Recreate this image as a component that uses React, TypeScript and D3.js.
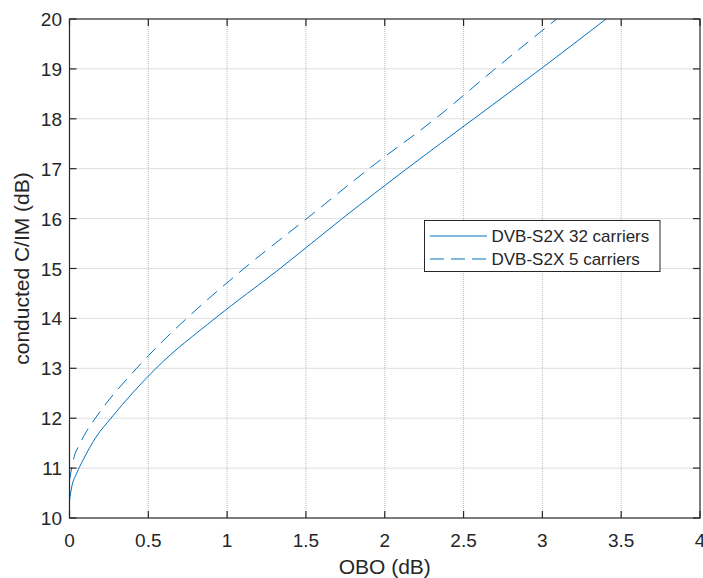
import React from "react";
import * as d3 from "d3";

const xTicks = [0, 0.5, 1, 1.5, 2, 2.5, 3, 3.5, 4];
const yTicks = [10, 11, 12, 13, 14, 15, 16, 17, 18, 19, 20];

const obo32 = [0, 0.014, 0.046, 0.084, 0.168, 0.263, 0.549, 0.923, 1.336, 1.73, 2.14, 2.565, 2.99, 3.404];
const cim32 = [10.36, 10.62, 10.9, 11.15, 11.62, 12.0, 13.0, 14.0, 15.0, 16.0, 17.0, 18.0, 19.0, 20.0];

const obo5 = [0, 0.014, 0.03, 0.062, 0.094, 0.164, 0.426, 0.665, 0.743, 1.107, 1.505, 1.9, 2.32, 2.7, 3.09];
const cim5 = [10.76, 11.0, 11.23, 11.46, 11.66, 12.0, 13.0, 13.77, 14.0, 15.0, 16.0, 17.0, 18.0, 19.0, 20.0];

const seriesNames = ["DVB-S2X 32 carriers", "DVB-S2X 5 carriers"];

const W = 703, H = 578;
const L = 69.5, R = 700, T = 19, B = 518;
const lineColor = "#0072BD";
const axisColor = "#262626";
const font = "'Liberation Sans', Arial, Helvetica, sans-serif";

export default function App() {
  const x = d3.scaleLinear().domain([0, 4]).range([L, R]);
  const y = d3.scaleLinear().domain([10, 20]).range([B, T]);
  const line = d3
    .line<[number, number]>()
    .x((d) => x(d[0]))
    .y((d) => y(d[1]))
    .curve(d3.curveMonotoneX);
  const d32 = line(obo32.map((v, i) => [v, cim32[i]] as [number, number])) || "";
  const d5 = line(obo5.map((v, i) => [v, cim5[i]] as [number, number])) || "";
  const tl = 7;

  const legX = 424.5, legY = 220.5, legW = 235.5, legH = 51;

  return (
    <svg width={W} height={H} style={{ position: "absolute", left: 0, top: 0, background: "#fff" }} fontFamily={font}>
      <rect x={0} y={0} width={W} height={H} fill="#fff" />
      <defs>
        <clipPath id="plot">
          <rect x={L} y={T} width={R - L} height={B - T} />
        </clipPath>
      </defs>
      {/* grid */}
      <g stroke="#bdbdbd" strokeWidth={1} strokeDasharray="1 1">
        {xTicks.slice(1, -1).map((t) => (
          <line key={"gx" + t} x1={x(t)} x2={x(t)} y1={T} y2={B} />
        ))}
        {yTicks.slice(1, -1).map((t) => (
          <line key={"gy" + t} x1={L} x2={R} y1={y(t)} y2={y(t)} />
        ))}
      </g>
      {/* curves */}
      <g clipPath="url(#plot)" fill="none" stroke={lineColor} strokeWidth={1}>
        <path d={d32} />
        <path d={d5} strokeDasharray="13 8" />
      </g>
      {/* box */}
      <rect x={L} y={T} width={R - L} height={B - T} fill="none" stroke={axisColor} strokeWidth={1.2} />
      {/* ticks */}
      <g stroke={axisColor} strokeWidth={1.2}>
        {xTicks.map((t) => (
          <g key={"tx" + t}>
            <line x1={x(t)} x2={x(t)} y1={B} y2={B - tl} />
            <line x1={x(t)} x2={x(t)} y1={T} y2={T + tl} />
          </g>
        ))}
        {yTicks.map((t) => (
          <g key={"ty" + t}>
            <line x1={L} x2={L + tl} y1={y(t)} y2={y(t)} />
            <line x1={R} x2={R - tl} y1={y(t)} y2={y(t)} />
          </g>
        ))}
      </g>
      {/* tick labels */}
      <g fill={axisColor} fontSize={19}>
        {xTicks.map((t) => (
          <text key={"lx" + t} x={x(t)} y={547} textAnchor="middle">
            {String(t)}
          </text>
        ))}
        {yTicks.map((t) => (
          <text key={"ly" + t} x={62} y={y(t) + 7} textAnchor="end">
            {String(t)}
          </text>
        ))}
      </g>
      {/* axis labels */}
      <text x={(L + R) / 2} y={574} textAnchor="middle" fontSize={21} fill={axisColor}>
        OBO (dB)
      </text>
      <text
        transform={`translate(29, ${(T + B) / 2}) rotate(-90)`}
        textAnchor="middle"
        fontSize={21}
        fill={axisColor}
      >
        conducted C/IM (dB)
      </text>
      {/* legend */}
      <g>
        <rect x={legX} y={legY} width={legW} height={legH} fill="#fff" stroke={axisColor} strokeWidth={1} />
        <line x1={430} x2={487} y1={236} y2={236} stroke={lineColor} strokeWidth={1} />
        <line x1={430} x2={487} y1={259} y2={259} stroke={lineColor} strokeWidth={1} strokeDasharray="14 7" />
        <text x={491.5} y={242} fontSize={17} fill={axisColor}>
          {seriesNames[0]}
        </text>
        <text x={491.5} y={265} fontSize={17} fill={axisColor}>
          {seriesNames[1]}
        </text>
      </g>
    </svg>
  );
}
